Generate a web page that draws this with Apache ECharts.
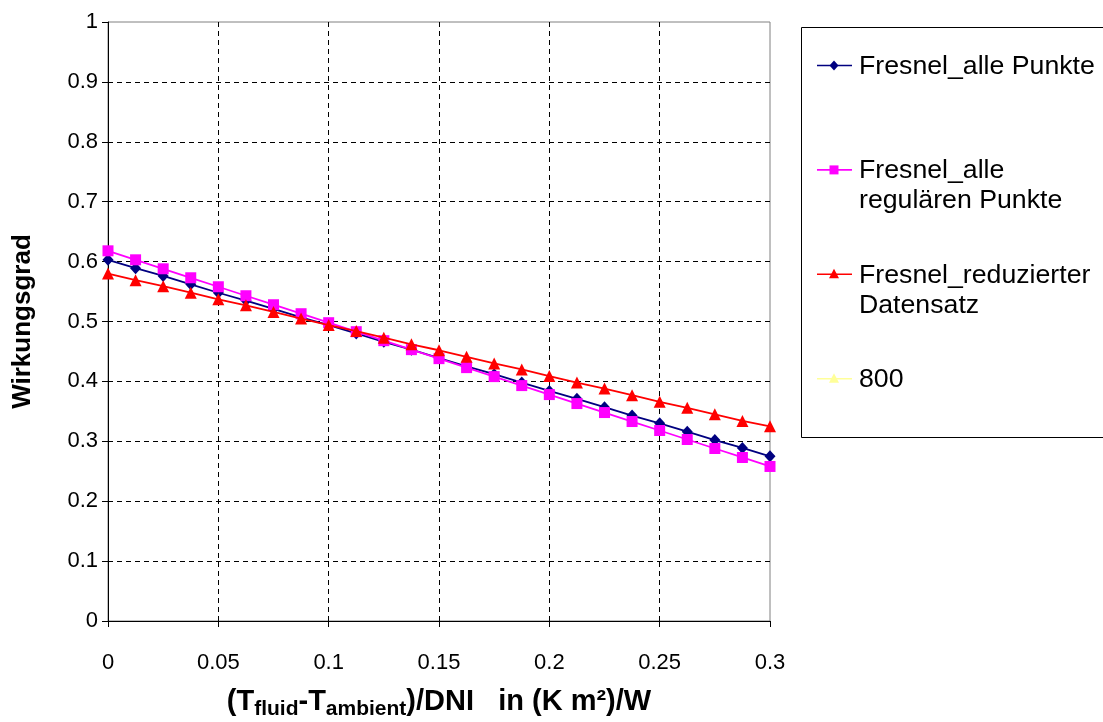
<!DOCTYPE html>
<html>
<head>
<meta charset="utf-8">
<title>Wirkungsgrad Fresnel</title>
<script src="https://cdn.jsdelivr.net/npm/echarts@6/dist/echarts.min.js"></script>
<style>
  html, body { margin: 0; padding: 0; background: #ffffff; }
  #chart { width: 1103px; height: 722px; }
</style>
</head>
<body>
<div id="chart"></div>
<script>
// (T_fluid - T_ambient)/DNI in (K m²)/W
const xValues = [0, 0.0125, 0.025, 0.0375, 0.05, 0.0625, 0.075, 0.0875, 0.1, 0.1125, 0.125, 0.1375,
  0.15, 0.1625, 0.175, 0.1875, 0.2, 0.2125, 0.225, 0.2375, 0.25, 0.2625, 0.275, 0.2875, 0.3];

// Wirkungsgrad per data set
const allePunkte = [0.603, 0.589, 0.576, 0.562, 0.548, 0.535, 0.521, 0.507, 0.494, 0.480, 0.466, 0.453,
  0.439, 0.425, 0.412, 0.398, 0.384, 0.371, 0.357, 0.343, 0.330, 0.316, 0.302, 0.289, 0.275];
const regulaerePunkte = [0.618, 0.603, 0.588, 0.573, 0.558, 0.543, 0.528, 0.513, 0.498, 0.483, 0.468, 0.453,
  0.438, 0.423, 0.408, 0.393, 0.378, 0.363, 0.348, 0.333, 0.318, 0.303, 0.288, 0.273, 0.258];
const reduzierterDatensatz = [0.580, 0.569, 0.559, 0.548, 0.537, 0.527, 0.516, 0.505, 0.494, 0.484, 0.473, 0.462,
  0.452, 0.441, 0.430, 0.420, 0.409, 0.398, 0.388, 0.377, 0.366, 0.356, 0.345, 0.334, 0.325];
const serie800 = [];

const seriesNames = ['Fresnel_alle Punkte', 'Fresnel_alle\nregulären Punkte', 'Fresnel_reduzierter\nDatensatz', '800'];
const seriesValues = [allePunkte, regulaerePunkte, reduzierterDatensatz, serie800];

const xTicks = { min: 0, max: 0.3, interval: 0.05 };
const yTicks = { min: 0, max: 1, interval: 0.1 };

const FONT = "'Liberation Sans', Arial, sans-serif";
const colors = ['#000080', '#FF00FF', '#FF0000', '#FFFF99'];
const symbols = ['diamond', 'rect', 'triangle', 'triangle'];
const symbolSizes = [[11, 12], 11, 12, 12];

const chart = echarts.init(document.getElementById('chart'), null, { renderer: 'canvas' });

const series = seriesValues.map((vals, i) => ({
  name: seriesNames[i],
  type: 'line',
  data: vals.map((v, k) => [xValues[k], v]),
  symbol: symbols[i],
  symbolSize: symbolSizes[i],
  showAllSymbol: true,
  lineStyle: { color: colors[i], width: 1.8 },
  itemStyle: { color: colors[i], borderWidth: 0 },
  emphasis: { disabled: true },
  z: 3 + i
}));

// Legend box drawn as graphic elements, one row per series
const legendX = 801, legendY = 27, rowGap = 104.4, firstRow = 65.5;
const legendGraphics = [{
  type: 'rect',
  shape: { x: legendX + 0.5, y: legendY + 0.5, width: 320, height: 410 },
  style: { fill: '#ffffff', stroke: '#000000', lineWidth: 1 },
  z: 10
}];
seriesNames.forEach((name, i) => {
  const cy = firstRow + i * rowGap;
  legendGraphics.push({
    type: 'line',
    shape: { x1: 817, y1: cy, x2: 852, y2: cy },
    style: { stroke: colors[i], lineWidth: 1.6 },
    z: 11
  });
  const sz = 9;
  let marker;
  if (symbols[i] === 'diamond') {
    marker = { type: 'polygon', shape: { points: [[834, cy - 5], [838.5, cy], [834, cy + 5], [829.5, cy]] } };
  } else if (symbols[i] === 'rect') {
    marker = { type: 'rect', shape: { x: 834 - 4.5, y: cy - 4.5, width: sz, height: sz } };
  } else {
    marker = { type: 'polygon', shape: { points: [[834, cy - 5.5], [839, cy + 4], [829, cy + 4]] } };
  }
  marker.style = { fill: colors[i] };
  marker.z = 12;
  legendGraphics.push(marker);
  legendGraphics.push({
    type: 'text',
    x: 859, y: cy - 14,
    style: {
      text: name,
      font: '26.7px ' + FONT,
      fill: '#000000',
      lineHeight: 30,
      verticalAlign: 'top',
      align: 'left'
    },
    z: 12
  });
});

chart.setOption({
  animation: false,
  backgroundColor: '#ffffff',
  grid: {
    left: 108, right: 333, top: 22, bottom: 101,
    outerBoundsMode: 'none',
    containLabel: false,
    show: true, borderColor: '#808080', borderWidth: 1, backgroundColor: '#ffffff'
  },
  xAxis: {
    type: 'value',
    min: xTicks.min, max: xTicks.max, interval: xTicks.interval,
    axisLine: { show: true, onZero: false, lineStyle: { color: '#000000', width: 1 } },
    axisTick: { show: true, inside: false, length: 6, lineStyle: { color: '#000000' } },
    axisLabel: { color: '#000000', fontSize: 22, fontFamily: FONT, margin: 31 },
    splitLine: { show: true, showMinLine: false, showMaxLine: false, lineStyle: { color: '#000000', type: [5, 4], width: 1 } },
    name: '{b|(T}{s|fluid}{b|-T}{s|ambient}{b|)/DNI   in (K m²)/W}',
    nameLocation: 'middle',
    nameGap: 66,
    nameTextStyle: {
      rich: {
        b: { fontSize: 29, fontWeight: 'bold', fontFamily: FONT, color: '#000000', lineHeight: 33, verticalAlign: 'top' },
        s: { fontSize: 21, fontWeight: 'bold', fontFamily: FONT, color: '#000000', lineHeight: 21, verticalAlign: 'bottom' }
      }
    }
  },
  yAxis: {
    type: 'value',
    min: yTicks.min, max: yTicks.max, interval: yTicks.interval,
    axisLine: { show: true, onZero: false, lineStyle: { color: '#000000', width: 1 } },
    axisTick: { show: true, inside: false, length: 6, lineStyle: { color: '#000000' } },
    axisLabel: { color: '#000000', fontSize: 22, fontFamily: FONT, margin: 10 },
    splitLine: { show: true, showMinLine: false, showMaxLine: false, lineStyle: { color: '#000000', type: [5, 4], width: 1 } },
    name: 'Wirkungsgrad',
    nameLocation: 'middle',
    nameRotate: 90,
    nameGap: 72,
    nameTextStyle: { fontSize: 26, fontWeight: 'bold', fontFamily: FONT, color: '#000000' }
  },
  series: series,
  graphic: legendGraphics
});
</script>
</body>
</html>
